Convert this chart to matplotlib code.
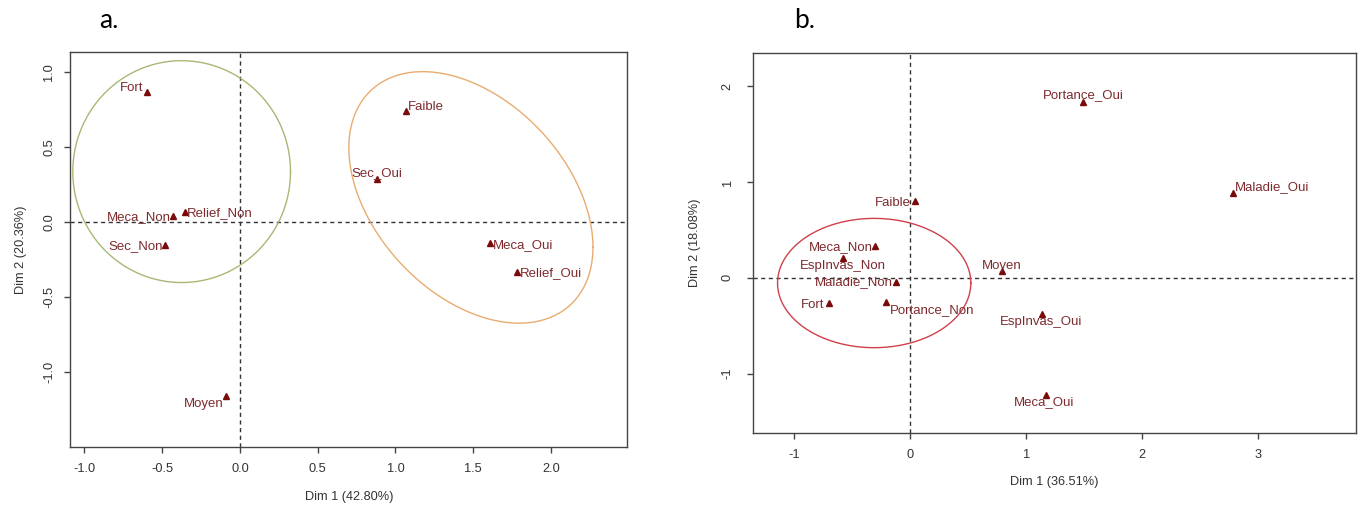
import numpy as np
import matplotlib
matplotlib.use("Agg")
import matplotlib.pyplot as plt

plt.rcParams['font.family'] = ['Liberation Sans', 'DejaVu Sans']

# ---- Panel a: MCA category coordinates ----
a_labels = ["Fort", "Faible", "Sec_Oui", "Meca_Non", "Relief_Non",
            "Sec_Non", "Meca_Oui", "Relief_Oui", "Moyen"]
a_dim1 = [-0.60, 1.065, 0.88, -0.43, -0.355, -0.48, 1.61, 1.78, -0.09]
a_dim2 = [0.87, 0.74, 0.29, 0.04, 0.07, -0.155, -0.14, -0.33, -1.16]
a_xlabel = "Dim 1 (42.80%)"
a_ylabel = "Dim 2 (20.36%)"
a_xticks = [-1.0, -0.5, 0.0, 0.5, 1.0, 1.5, 2.0]
a_yticks = [-1.0, -0.5, 0.0, 0.5, 1.0]

# ---- Panel b: MCA category coordinates ----
b_labels = ["Portance_Oui", "Maladie_Oui", "Faible", "Meca_Non",
            "EspInvas_Non", "Maladie_Non", "Moyen", "Fort",
            "Portance_Non", "EspInvas_Oui", "Meca_Oui"]
b_dim1 = [1.49, 2.78, 0.04, -0.30, -0.58, -0.12, 0.79, -0.70, -0.21, 1.14, 1.17]
b_dim2 = [1.84, 0.88, 0.80, 0.33, 0.21, -0.04, 0.07, -0.26, -0.25, -0.38, -1.22]
b_xlabel = "Dim 1 (36.51%)"
b_ylabel = "Dim 2 (18.08%)"
b_xticks = [-1, 0, 1, 2, 3]
b_yticks = [-1, 0, 1, 2]

# label placement (offset in points, horizontal alignment) per point
a_place = {
    "Fort": ((-2.5, 3), "right"),
    "Faible": ((2, 3), "left"),
    "Sec_Oui": ((0, 4), "center"),
    "Meca_Non": ((-1.5, -0.7), "right"),
    "Relief_Non": ((1.5, -1), "left"),
    "Sec_Non": ((-2, -0.7), "right"),
    "Meca_Oui": ((2, -1.2), "left"),
    "Relief_Oui": ((2, -0.7), "left"),
    "Moyen": ((-2, -6), "right"),
}
b_place = {
    "Portance_Oui": ((0, 4.3), "center"),
    "Maladie_Oui": ((1.5, 4.3), "left"),
    "Faible": ((-3, -1.2), "right"),
    "Meca_Non": ((-2, -0.5), "right"),
    "EspInvas_Non": ((0, -5.8), "center"),
    "Maladie_Non": ((-2, -0.3), "right"),
    "Moyen": ((0, 4), "center"),
    "Fort": ((-3, -2), "right"),
    "Portance_Non": ((3, -6.2), "left"),
    "EspInvas_Oui": ((-1, -5.8), "center"),
    "Meca_Oui": ((-1, -5.5), "center"),
}

TXT = "#7d2a2e"
MRK = "#7a0a0a"
SPINE = "#444444"
LBL = "#333333"


def ellipse_xy(cx, cy, sxx, syy, sxy, n=240):
    """Points of an ellipse with given centre and shape matrix."""
    L = np.linalg.cholesky(np.array([[sxx, sxy], [sxy, syy]]))
    t = np.linspace(0, 2 * np.pi, n)
    pts = L @ np.vstack([np.cos(t), np.sin(t)])
    return cx + pts[0], cy + pts[1]


def style_axes(ax, xticks, yticks, xlabel, ylabel, xfmt, xpad, ypad, xlp, ylp):
    for s in ax.spines.values():
        s.set_color(SPINE)
        s.set_linewidth(1.0)
    ax.set_xticks(xticks)
    ax.set_yticks(yticks)
    ax.set_xticklabels([xfmt(v) for v in xticks])
    ax.set_yticklabels([xfmt(v) for v in yticks], rotation=90, va="center")
    ax.tick_params(direction="out", length=4.3, width=1, colors=SPINE,
                   labelsize=9.2, labelcolor=LBL)
    ax.tick_params(axis="x", pad=xpad)
    ax.tick_params(axis="y", pad=ypad)
    ax.set_xlabel(xlabel, fontsize=9.2, color=LBL, labelpad=xlp)
    ax.set_ylabel(ylabel, fontsize=9.2, color=LBL, labelpad=ylp)
    ax.axhline(0, color="#333333", lw=1, ls=(0, (3, 2.5)), zorder=1)
    ax.axvline(0, color="#333333", lw=1, ls=(0, (3, 2.5)), zorder=1)


def draw_points(ax, xs, ys, labels, place):
    ax.plot(xs, ys, ls="none", marker="^", ms=5, color=MRK, zorder=3)
    for x, y, lab in zip(xs, ys, labels):
        off, ha = place[lab]
        ax.annotate(lab, (x, y), xytext=off, textcoords="offset points",
                    ha=ha, va="center", fontsize=9.5, color=TXT, zorder=4)


W, H = 1364, 516
fig = plt.figure(figsize=(W / 100, H / 100), dpi=100)

# Panel a
ax1 = fig.add_axes([70.3 / W, 1 - 447 / H, (627.2 - 70.3) / W, (447 - 52) / H])
ax1.set_xlim(-1.091, 2.49)
ax1.set_ylim(-1.50, 1.135)
style_axes(ax1, a_xticks, a_yticks, a_xlabel, a_ylabel, lambda v: f"{v:.1f}",
           xpad=7, ypad=6.5, xlp=12, ylp=12)
ex, ey = ellipse_xy(-0.375, 0.337, 0.70 ** 2, 0.74 ** 2, 0.0)
ax1.plot(ex, ey, color="#a8b874", lw=1.0, zorder=2)
ex, ey = ellipse_xy(1.485, 0.165, 0.785 ** 2, 0.839 ** 2, -0.26)
ax1.plot(ex, ey, color="#e8ac70", lw=1.0, zorder=2)
draw_points(ax1, a_dim1, a_dim2, a_labels, a_place)

# Panel b
ax2 = fig.add_axes([752.7 / W, 1 - 433.3 / H, (1355.6 - 752.7) / W, (433.3 - 52.7) / H])
ax2.set_xlim(-1.356, 3.84)
ax2.set_ylim(-1.624, 2.35)
style_axes(ax2, b_xticks, b_yticks, b_xlabel, b_ylabel, lambda v: f"{v:d}",
           xpad=7, ypad=9.5, xlp=11, ylp=15)
ex, ey = ellipse_xy(-0.309, -0.055, 0.833 ** 2, 0.675 ** 2, 0.0)
ax2.plot(ex, ey, color="#d0404c", lw=1.0, zorder=2)
draw_points(ax2, b_dim1, b_dim2, b_labels, b_place)

fig.text(99 / W, 1 - 21 / H, "a.", fontsize=19, family=["Lato", "DejaVu Sans"],
         ha="left", va="center")
fig.text(794 / W, 1 - 21 / H, "b.", fontsize=19, family=["Lato", "DejaVu Sans"],
         ha="left", va="center")

fig.savefig("out.png", dpi=100, facecolor="white")
